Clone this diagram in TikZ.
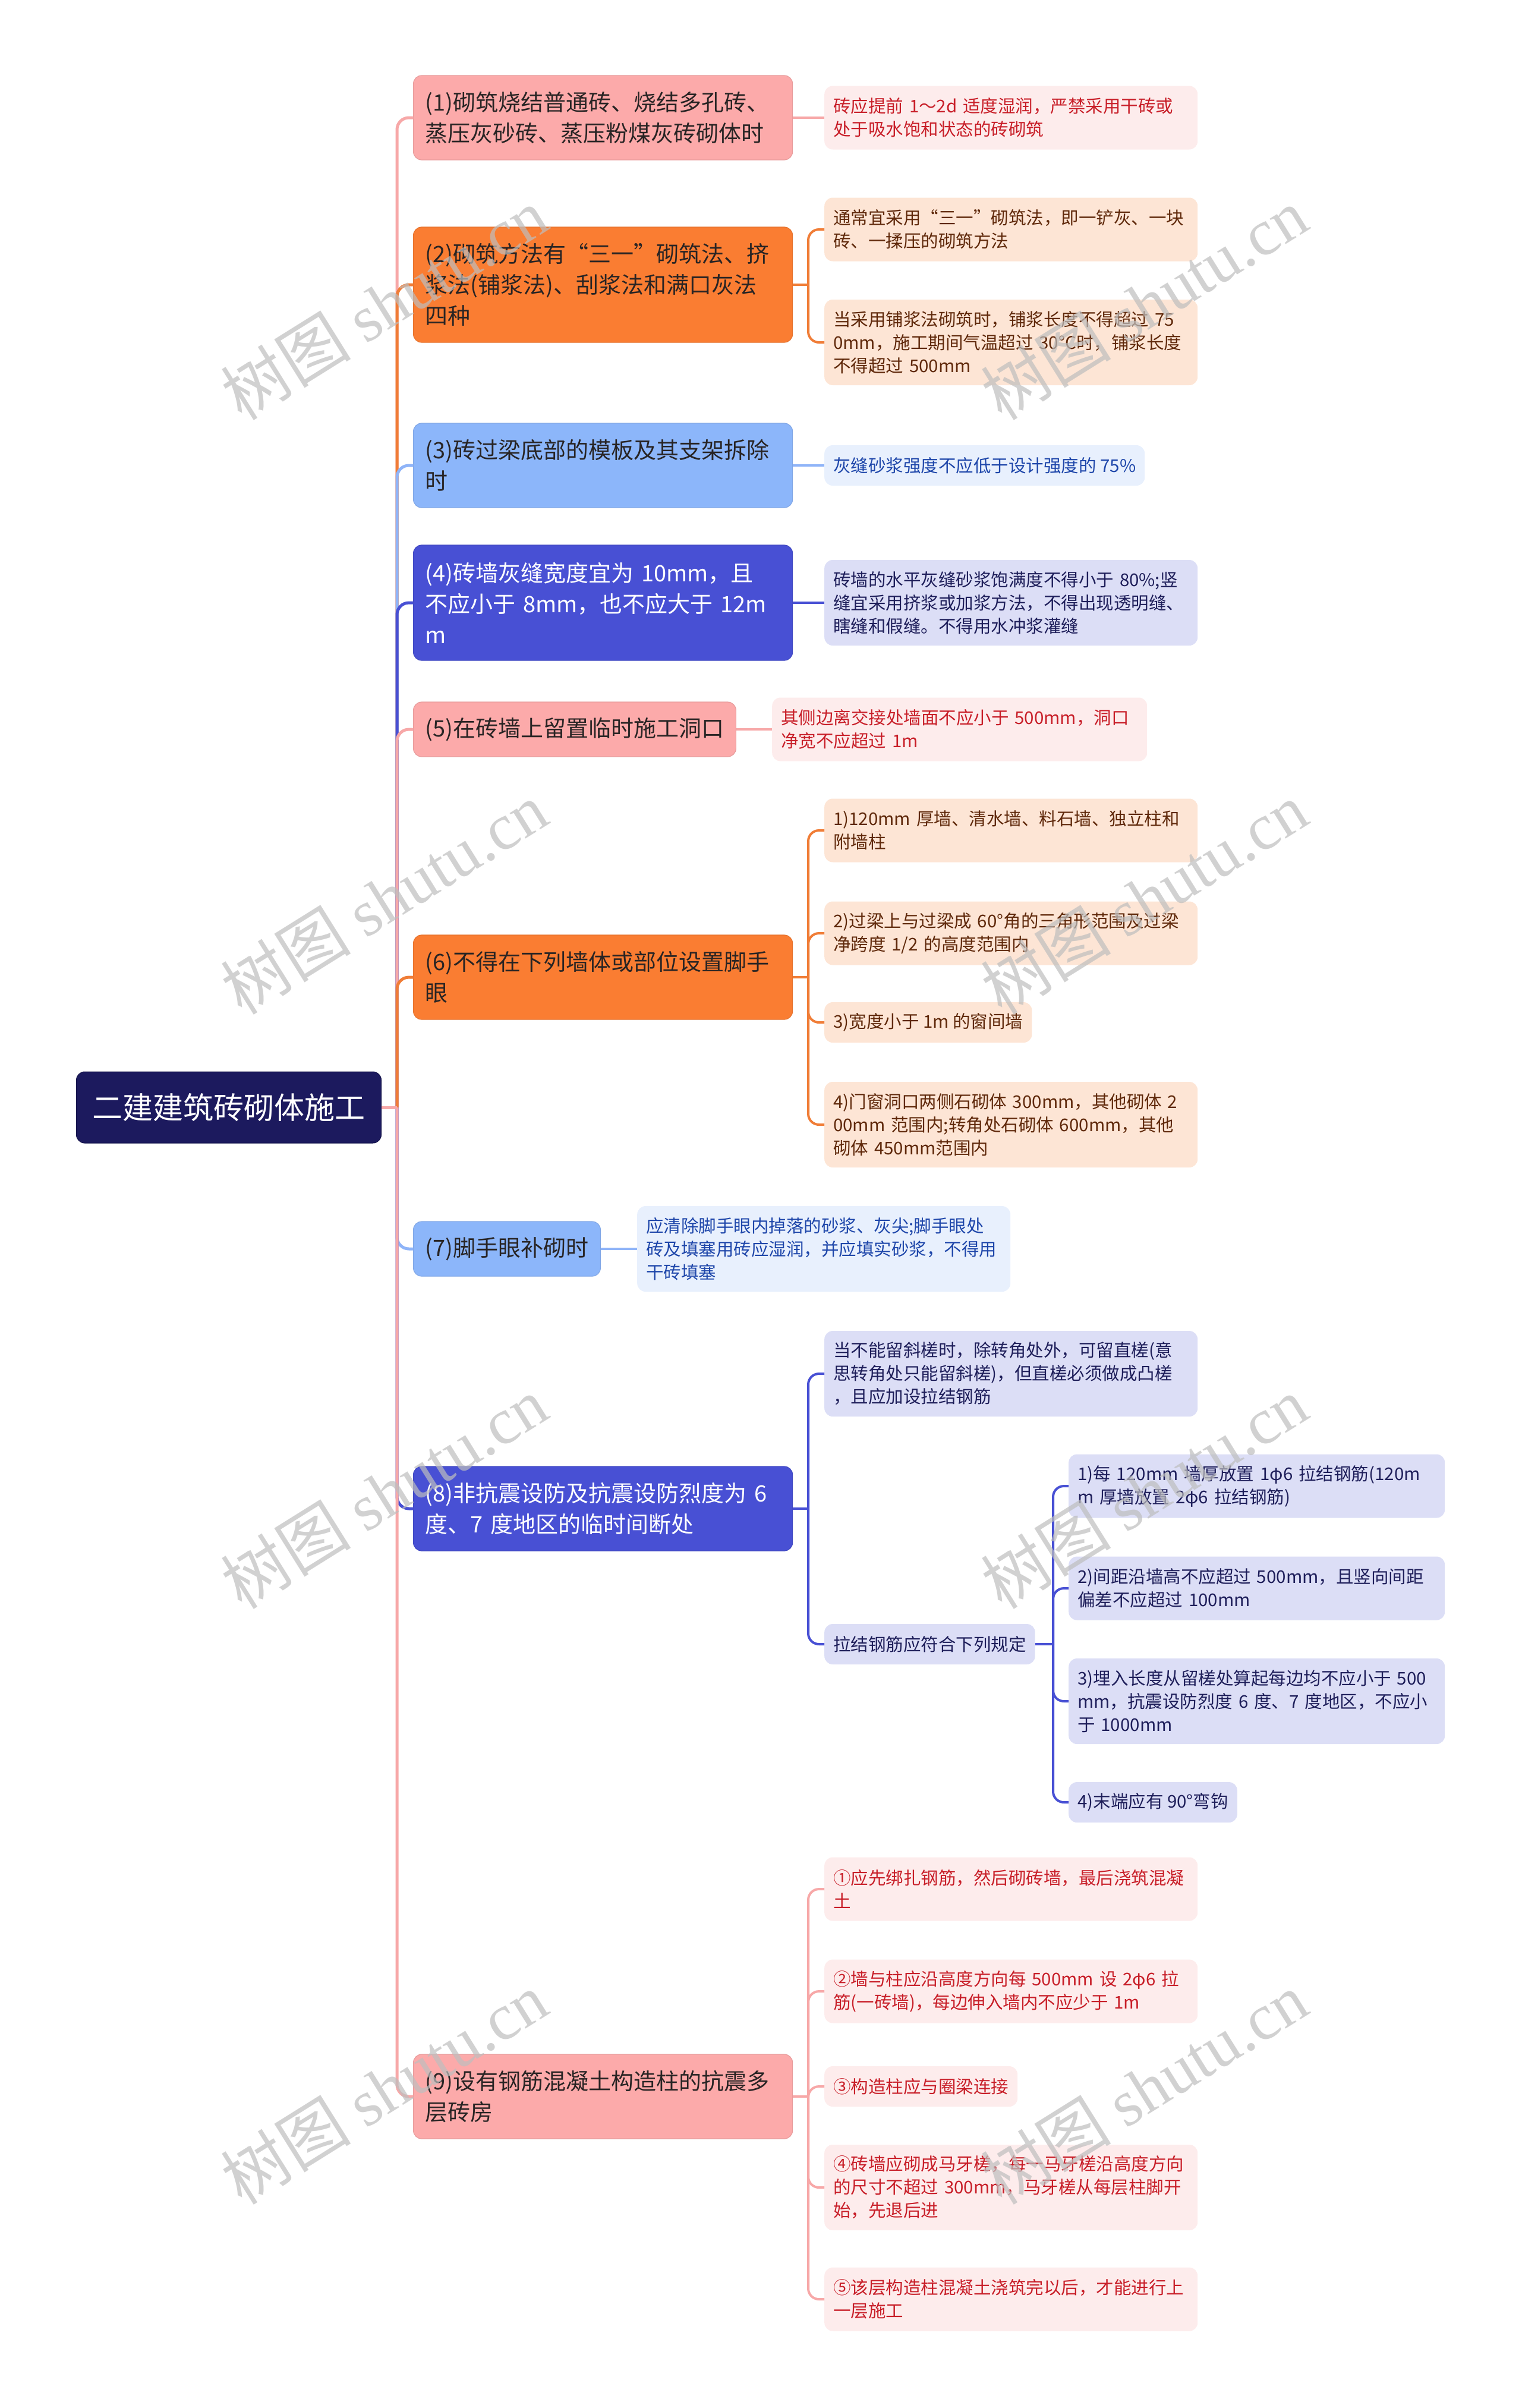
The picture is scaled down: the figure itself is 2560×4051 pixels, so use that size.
\documentclass[tikz,border=0pt]{standalone}
\usepackage{fontspec}
\setmainfont{Noto Sans CJK SC}
\newfontfamily\wmserif{Liberation Serif}
\usetikzlibrary{calc}
\definecolor{rootfill}{RGB}{28,26,94}
\definecolor{pinkA}{RGB}{252,170,170}
\definecolor{pinkB}{RGB}{253,236,236}
\definecolor{pinkL}{RGB}{247,168,168}
\definecolor{pinkT}{RGB}{200,30,40}
\definecolor{oranA}{RGB}{250,125,50}
\definecolor{oranB}{RGB}{253,229,213}
\definecolor{oranL}{RGB}{240,125,55}
\definecolor{oranT}{RGB}{95,40,10}
\definecolor{blueA}{RGB}{140,182,250}
\definecolor{blueB}{RGB}{232,240,253}
\definecolor{blueL}{RGB}{143,180,248}
\definecolor{blueT}{RGB}{30,70,170}
\definecolor{indA}{RGB}{72,80,212}
\definecolor{indB}{RGB}{220,222,246}
\definecolor{indL}{RGB}{72,80,212}
\definecolor{indT}{RGB}{30,30,90}
\definecolor{darkT}{RGB}{40,36,36}
\definecolor{wmgray}{RGB}{190,190,190}
\begin{document}
\begin{tikzpicture}[x=1pt,y=1pt,
  every node/.style={inner ysep=0pt},
  rootbox/.style={rounded corners=14pt, anchor=west, fill=rootfill, draw=rootfill!80!black, line width=1pt, text=white, align=center, minimum width=513pt, minimum height=120pt, font=\fontsize{51}{60}\selectfont},
  lone/.style={rounded corners=14pt, anchor=west, inner xsep=20pt, align=left, font=\fontsize{38}{52}\selectfont, line width=1.2pt},
  ltwo/.style={rounded corners=14pt, anchor=west, inner xsep=15pt, align=left, font=\fontsize{29.5}{39}\selectfont},
  wide/.style={text width=598pt},
  wideh/.style={text width=603pt},
  pinkone/.style={lone, fill=pinkA, draw=pinkA!92!black, text=darkT},
  oranone/.style={lone, fill=oranA, draw=oranA!92!black, text=darkT},
  blueone/.style={lone, fill=blueA, draw=blueA!92!black, text=darkT},
  indone/.style={lone, fill=indA, draw=indA!92!black, text=white},
  pinktwo/.style={ltwo, fill=pinkB, text=pinkT},
  orantwo/.style={ltwo, fill=oranB, text=oranT},
  bluetwo/.style={ltwo, fill=blueB, text=blueT},
  indtwo/.style={ltwo, fill=indB, text=indT},
  trunk/.style={line width=5pt, rounded corners=20pt},
  twig/.style={line width=4pt, rounded corners=18pt},
  wm/.style={rotate=32, text=wmgray, opacity=0.7, font=\fontsize{110}{110}\selectfont}
]
\useasboundingbox (0,0) rectangle (2560,-4051);

% ---------- root ----------
\node[rootbox] (root) at (128,-1863) {二建建筑砖砌体施工};

% ---------- level 1 ----------
\node[pinkone, wide, minimum height=142pt] (n1) at (695,-198) {(1)砌筑烧结普通砖、烧结多孔砖、\\蒸压灰砂砖、蒸压粉煤灰砖砌体时};
\node[oranone, wide, minimum height=194pt] (n2) at (695,-479) {(2)砌筑方法有“三一”砌筑法、挤\\浆法(铺浆法)、刮浆法和满口灰法\\四种};
\node[blueone, wide, minimum height=142pt] (n3) at (695,-783) {(3)砖过梁底部的模板及其支架拆除\\时};
\node[indone, wide, minimum height=194pt] (n4) at (695,-1014) {(4)砖墙灰缝宽度宜为~10mm，且\\不应小于~8mm，也不应大于~12m\\m};
\node[pinkone, minimum height=92pt] (n5) at (695,-1227) {(5)在砖墙上留置临时施工洞口};
\node[oranone, wide, minimum height=142pt] (n6) at (695,-1644) {(6)不得在下列墙体或部位设置脚手\\眼};
\node[blueone, minimum height=92pt] (n7) at (695,-2101) {(7)脚手眼补砌时};
\node[indone, wide, minimum height=142pt] (n8) at (695,-2538) {(8)非抗震设防及抗震设防烈度为~6\\度、7~度地区的临时间断处};
\node[pinkone, wide, minimum height=142pt] (n9) at (695,-3527) {(9)设有钢筋混凝土构造柱的抗震多\\层砖房};

% ---------- level 2 ----------
\node[pinktwo, wide, minimum height=107pt] (a1) at (1387,-198) {砖应提前~1～2d~适度湿润，严禁采用干砖或\\处于吸水饱和状态的砖砌筑};
\node[orantwo, wide, minimum height=107pt] (a2) at (1387,-386) {通常宜采用“三一”砌筑法，即一铲灰、一块\\砖、一揉压的砌筑方法};
\node[orantwo, wide, minimum height=144pt] (a3) at (1387,-576) {当采用铺浆法砌筑时，铺浆长度不得超过~75\\0mm，施工期间气温超过~30°C时，铺浆长度\\不得超过~500mm};
\node[bluetwo, minimum height=68pt] (b1) at (1387,-783) {灰缝砂浆强度不应低于设计强度的~75\%};
\node[indtwo, wide, minimum height=144pt] (c1) at (1387,-1014) {砖墙的水平灰缝砂浆饱满度不得小于~80\%;竖\\缝宜采用挤浆或加浆方法，不得出现透明缝、\\瞎缝和假缝。不得用水冲浆灌缝};
\node[pinktwo, text width=601pt, minimum height=107pt] (d1) at (1299,-1227) {其侧边离交接处墙面不应小于~500mm，洞口\\净宽不应超过~1m};
\node[orantwo, wide, minimum height=107pt] (e1) at (1387,-1397) {1)120mm~厚墙、清水墙、料石墙、独立柱和\\附墙柱};
\node[orantwo, wide, minimum height=107pt] (e2) at (1387,-1570) {2)过梁上与过梁成~60°角的三角形范围及过梁\\净跨度~1/2~的高度范围内};
\node[orantwo, minimum height=68pt] (e3) at (1387,-1720) {3)宽度小于~1m~的窗间墙};
\node[orantwo, wide, minimum height=144pt] (e4) at (1387,-1892) {4)门窗洞口两侧石砌体~300mm，其他砌体~2\\00mm~范围内;转角处石砌体~600mm，其他\\砌体~450mm范围内};
\node[bluetwo, wide, minimum height=144pt] (f1) at (1072,-2101) {应清除脚手眼内掉落的砂浆、灰尖;脚手眼处\\砖及填塞用砖应湿润，并应填实砂浆，不得用\\干砖填塞};
\node[indtwo, wide, minimum height=144pt] (g1) at (1387,-2311) {当不能留斜槎时，除转角处外，可留直槎(意\\思转角处只能留斜槎)，但直槎必须做成凸槎\\，且应加设拉结钢筋};
\node[indtwo, minimum height=68pt] (g2) at (1387,-2766) {拉结钢筋应符合下列规定};
\node[indtwo, wideh, minimum height=107pt] (h1) at (1798,-2500) {1)每~120mm~墙厚放置~1φ6~拉结钢筋(120m\\m~厚墙放置~2φ6~拉结钢筋)};
\node[indtwo, wideh, minimum height=107pt] (h2) at (1798,-2672) {2)间距沿墙高不应超过~500mm，且竖向间距\\偏差不应超过~100mm};
\node[indtwo, wideh, minimum height=144pt] (h3) at (1798,-2862) {3)埋入长度从留槎处算起每边均不应小于~500\\mm，抗震设防烈度~6~度、7~度地区，不应小\\于~1000mm};
\node[indtwo, minimum height=68pt] (h4) at (1798,-3032) {4)末端应有~90°弯钩};
\node[pinktwo, wide, minimum height=107pt] (i1) at (1387,-3178) {①应先绑扎钢筋，然后砌砖墙，最后浇筑混凝\\土};
\node[pinktwo, wide, minimum height=107pt] (i2) at (1387,-3350) {②墙与柱应沿高度方向每~500mm~设~2φ6~拉\\筋(一砖墙)，每边伸入墙内不应少于~1m};
\node[pinktwo, minimum height=68pt] (i3) at (1387,-3510) {③构造柱应与圈梁连接};
\node[pinktwo, wide, minimum height=144pt] (i4) at (1387,-3680) {④砖墙应砌成马牙槎，每一马牙槎沿高度方向\\的尺寸不超过~300mm，马牙槎从每层柱脚开\\始，先退后进};
\node[pinktwo, wide, minimum height=107pt] (i5) at (1387,-3868) {⑤该层构造柱混凝土浇筑完以后，才能进行上\\一层施工};

% ---------- junction coordinates ----------
\coordinate (rootj) at (668,-1863);
\coordinate (n2j) at (1360,-479);
\coordinate (n6j) at (1360,-1644);
\coordinate (n8j) at (1360,-2538);
\coordinate (g2j) at (1772,-2766);
\coordinate (n9j) at (1360,-3527);

% ---------- trunk connectors ----------
\begin{scope}[on background layer/.style={}]
\draw[trunk, pinkL] (rootj) |- (n1.west);
\draw[trunk, oranL] (rootj) |- (n2.west);
\draw[trunk, blueL] (rootj) |- (n3.west);
\draw[trunk, indL] (rootj) |- (n4.west);
\draw[trunk, pinkL] (rootj) |- (n5.west);
\draw[trunk, oranL] (rootj) |- (n6.west);
\draw[trunk, blueL] (rootj) |- (n7.west);
\draw[trunk, indL] (rootj) |- (n8.west);
\draw[trunk, pinkL] (rootj) |- (n9.west);
\draw[trunk, pinkL] (root.east) -- (rootj);
\end{scope}

% ---------- level 2 connectors ----------
\draw[twig, pinkL] (n1.east) -- (a1.west);
\draw[twig, oranL] (n2.east) -- (n2j);
\draw[twig, oranL] (n2j) |- (a2.west);
\draw[twig, oranL] (n2j) |- (a3.west);
\draw[twig, blueL] (n3.east) -- (b1.west);
\draw[twig, indL] (n4.east) -- (c1.west);
\draw[twig, pinkL] (n5.east) -- (d1.west);
\draw[twig, oranL] (n6.east) -- (n6j);
\draw[twig, oranL] (n6j) |- (e1.west);
\draw[twig, oranL] (n6j) |- (e2.west);
\draw[twig, oranL] (n6j) |- (e3.west);
\draw[twig, oranL] (n6j) |- (e4.west);
\draw[twig, blueL] (n7.east) -- (f1.west);
\draw[twig, indL] (n8.east) -- (n8j);
\draw[twig, indL] (n8j) |- (g1.west);
\draw[twig, indL] (n8j) |- (g2.west);
\draw[twig, indL] (g2.east) -- (g2j);
\draw[twig, indL] (g2j) |- (h1.west);
\draw[twig, indL] (g2j) |- (h2.west);
\draw[twig, indL] (g2j) |- (h3.west);
\draw[twig, indL] (g2j) |- (h4.west);
\draw[twig, pinkL] (n9.east) -- (n9j);
\draw[twig, pinkL] (n9j) |- (i1.west);
\draw[twig, pinkL] (n9j) |- (i2.west);
\draw[twig, pinkL] (n9j) |- (i3.west);
\draw[twig, pinkL] (n9j) |- (i4.west);
\draw[twig, pinkL] (n9j) |- (i5.west);

% ---------- watermarks ----------
\node[wm] (wm1) at (646,-511) {树图 {\wmserif shutu.cn}};
\node[wm] (wm2) at (1925,-511) {树图 {\wmserif shutu.cn}};
\node[wm] (wm3) at (646,-1511) {树图 {\wmserif shutu.cn}};
\node[wm] (wm4) at (1925,-1511) {树图 {\wmserif shutu.cn}};
\node[wm] (wm5) at (646,-2511) {树图 {\wmserif shutu.cn}};
\node[wm] (wm6) at (1925,-2511) {树图 {\wmserif shutu.cn}};
\node[wm] (wm7) at (646,-3513) {树图 {\wmserif shutu.cn}};
\node[wm] (wm8) at (1925,-3513) {树图 {\wmserif shutu.cn}};
\end{tikzpicture}
\end{document}
